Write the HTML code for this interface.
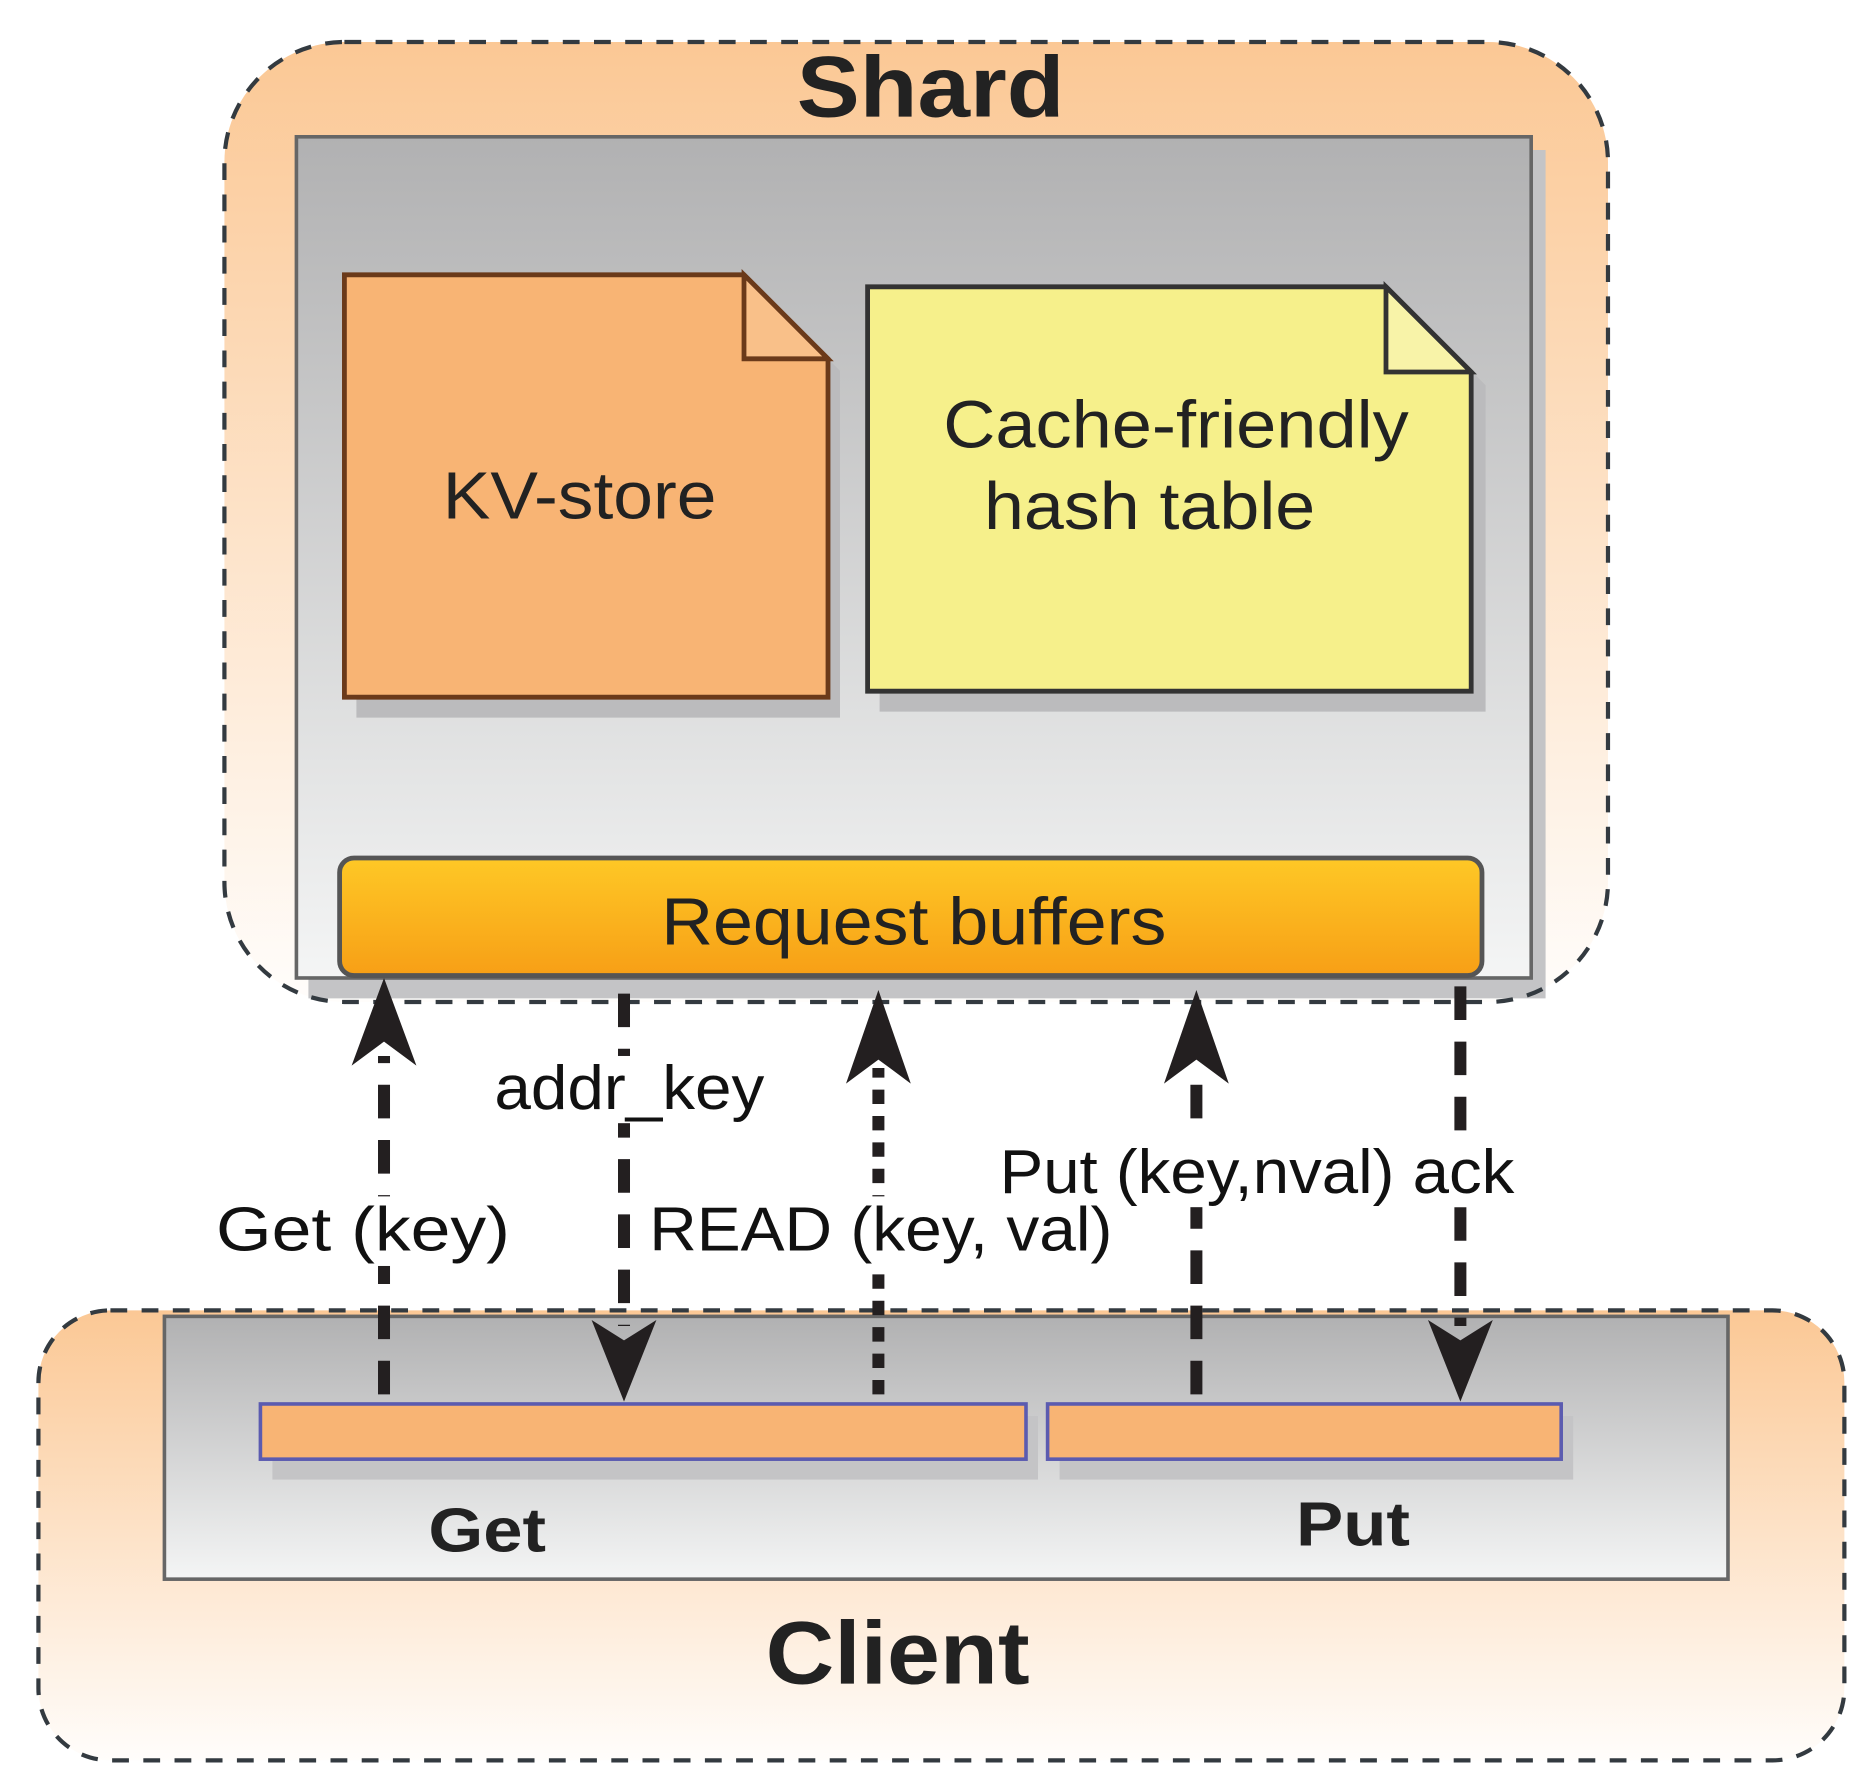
<!DOCTYPE html>
<html><head><meta charset="utf-8"><style>html,body{margin:0;padding:0;background:#fff}svg{display:block}</style></head>
<body>
<svg width="1872" height="1790" viewBox="0 0 1560 1491.7" xmlns="http://www.w3.org/2000/svg" font-family="Liberation Sans, sans-serif">
<defs>
<linearGradient id="og" x1="0" y1="0" x2="0" y2="1"><stop offset="0" stop-color="#fbc895"/><stop offset="1" stop-color="#fffdfb"/></linearGradient>
<linearGradient id="gg" x1="0" y1="0" x2="0" y2="1"><stop offset="0" stop-color="#b1b1b2"/><stop offset="1" stop-color="#f4f5f5"/></linearGradient>
<linearGradient id="yg" x1="0" y1="0" x2="0" y2="1"><stop offset="0" stop-color="#fec826"/><stop offset="1" stop-color="#f79f16"/></linearGradient>
</defs>
<!-- Shard -->
<rect x="187" y="35" width="1153" height="800" rx="100" fill="url(#og)"/>
<rect x="257" y="125" width="1031" height="707" fill="#c4c4c6"/>
<rect x="247" y="114" width="1029" height="701" fill="url(#gg)" stroke="#666" stroke-width="3"/>
<rect x="187" y="35" width="1153" height="800" rx="100" fill="none" stroke="#333a40" stroke-width="3.5" stroke-dasharray="14 12"/>
<text x="664" y="97" font-size="72" font-weight="bold" fill="#222" textLength="223" lengthAdjust="spacingAndGlyphs">Shard</text>
<!-- KV store -->
<polygon points="297,239 630,239 700,309 700,598 297,598" fill="#bbbbbd"/>
<polygon points="287,229 620,229 690,299 690,581 287,581" fill="#f8b474" stroke="#6b3a1a" stroke-width="4"/>
<polygon points="620,229 620,299 690,299" fill="#f9c089" stroke="#6b3a1a" stroke-width="4"/>
<text x="369" y="432" font-size="56" fill="#222" textLength="228" lengthAdjust="spacingAndGlyphs">KV-store</text>
<!-- hash table -->
<polygon points="733,249 1166,249 1238,321 1238,593 733,593" fill="#bbbbbd"/>
<polygon points="723,239 1155,239 1226,310 1226,576 723,576" fill="#f6f08b" stroke="#333" stroke-width="4"/>
<polygon points="1155,239 1155,310 1226,310" fill="#f8f3a8" stroke="#333" stroke-width="4"/>
<text x="786" y="373" font-size="56" fill="#222" textLength="388" lengthAdjust="spacingAndGlyphs">Cache-friendly</text>
<text x="820" y="441" font-size="56" fill="#222" textLength="276" lengthAdjust="spacingAndGlyphs">hash table</text>
<!-- request buffers -->
<rect x="283" y="715" width="952" height="98" rx="12" fill="url(#yg)" stroke="#555" stroke-width="4"/>
<text x="551" y="787" font-size="56" fill="#222" textLength="421" lengthAdjust="spacingAndGlyphs">Request buffers</text>
<!-- Client -->
<rect x="32" y="1092" width="1505" height="375" rx="60" fill="url(#og)"/>
<rect x="137" y="1097" width="1303" height="219" fill="url(#gg)" stroke="#666" stroke-width="3"/>
<rect x="32" y="1092" width="1505" height="375" rx="60" fill="none" stroke="#333a40" stroke-width="3.5" stroke-dasharray="14 12"/>
<rect x="227" y="1180" width="638" height="53" fill="#c4c4c6"/>
<rect x="883" y="1180" width="428" height="53" fill="#c4c4c6"/>
<rect x="217" y="1170" width="638" height="46" fill="#f8b474" stroke="#5b5bb0" stroke-width="3"/>
<rect x="873" y="1170" width="428" height="46" fill="#f8b474" stroke="#5b5bb0" stroke-width="3"/>
<text x="357" y="1293" font-size="52" font-weight="bold" fill="#222" textLength="98" lengthAdjust="spacingAndGlyphs">Get</text>
<text x="1080" y="1288" font-size="52" font-weight="bold" fill="#222" textLength="95" lengthAdjust="spacingAndGlyphs">Put</text>
<text x="638" y="1403" font-size="74" font-weight="bold" fill="#222" textLength="220" lengthAdjust="spacingAndGlyphs">Client</text>
<!-- arrows -->
<g stroke="#231f20" stroke-width="10" fill="none">
<line x1="320" y1="1162" x2="320" y2="880" stroke-dasharray="28 18"/>
<line x1="520" y1="828" x2="520" y2="1105" stroke-dasharray="28 18"/>
<line x1="732" y1="1162" x2="732" y2="890" stroke-dasharray="12 10"/>
<line x1="997" y1="1162" x2="997" y2="890" stroke-dasharray="28 18"/>
<line x1="1217" y1="822" x2="1217" y2="1105" stroke-dasharray="28 18"/>
</g>
<g fill="#231f20">
<polygon points="320,815 347,888 320,868 293,888"/>
<polygon points="520,1168 493,1100 520,1117 547,1100"/>
<polygon points="732,825 759,903 732,883 705,903"/>
<polygon points="997,825 1024,903 997,883 970,903"/>
<polygon points="1217,1168 1190,1100 1217,1117 1244,1100"/>
</g>
<g fill="#fff">
<rect x="408" y="880" width="233" height="56"/>
<rect x="176" y="997" width="253" height="58"/>
<rect x="537" y="997" width="394" height="58"/>
<rect x="829" y="950" width="437" height="56"/>
</g>
<g font-size="52" fill="#111">
<text x="412" y="924" textLength="225" lengthAdjust="spacingAndGlyphs">addr_key</text>
<text x="180" y="1042" textLength="245" lengthAdjust="spacingAndGlyphs">Get (key)</text>
<text x="541" y="1042" textLength="386" lengthAdjust="spacingAndGlyphs">READ (key, val)</text>
<text x="833" y="994" textLength="429" lengthAdjust="spacingAndGlyphs">Put (key,nval) ack</text>
</g>
</svg>
</body></html>
